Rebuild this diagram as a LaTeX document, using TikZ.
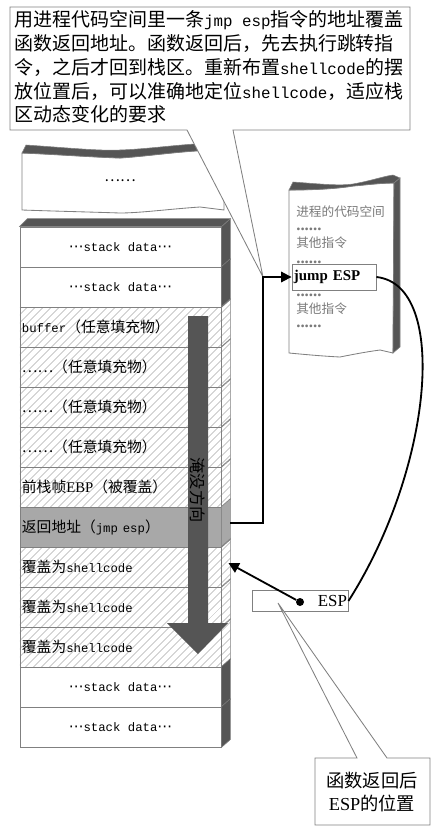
\documentclass[tikz,border=0pt]{standalone}
\usepackage{fontspec}
\setmainfont{Liberation Serif}
\setmonofont[Scale=0.833]{Liberation Mono}
\newfontfamily\cjk{Noto Sans CJK SC}
\newfontfamily\symfont{DejaVu Sans}
\newcommand{\middots}{{\symfont ⋯}}
\usetikzlibrary{arrows.meta,calc,patterns.meta}
\definecolor{framegray}{HTML}{808080}
\definecolor{bandgray}{HTML}{555555}
\definecolor{retgray}{HTML}{A8A8A8}
\definecolor{notegray}{HTML}{7A7A7A}
\tikzset{
  >={Triangle[length=2.6mm,width=2.6mm]},
  % stack
  slot/.style={draw=framegray,line width=0.6pt,minimum width=5.025cm,
               minimum height=1cm,inner sep=0pt,
               font=\cjk\fontsize{10.5}{12}\selectfont},
  lslot/.style={slot,text width=4.925cm,align=left,inner xsep=0.05cm},
  hatch/.style={pattern={Lines[angle=45,distance=4pt,line width=0.45pt]},
                pattern color=black!45},
  retfill/.style={fill=retgray},
  band/.style={fill=bandgray,draw=framegray,line width=0.4pt},
  sheet/.style={fill=white,draw=framegray,line width=0.6pt},
  % kod
  code/.style={anchor=west,inner sep=0pt,text=notegray,
               font=\cjk\fontsize{9}{10}\selectfont},
  codedots/.style={anchor=west,inner sep=0pt,text=notegray,
               font=\rmfamily\bfseries\fontsize{12}{12}\selectfont},
  jmpbox/.style={draw=framegray,line width=0.6pt,minimum width=2.1cm,
                 minimum height=0.65cm,text width=2cm,align=left,
                 inner xsep=0.05cm,font=\bfseries\fontsize{10.6}{12}\selectfont},
  % pilar och rutor
  link/.style={draw=black,line width=1.3pt},
  callout/.style={draw=framegray,fill=white,line width=0.6pt},
  espbox/.style={draw=framegray,line width=0.6pt,minimum width=2.4cm,
                 minimum height=0.5cm,text width=2.35cm,align=right,
                 inner xsep=0.025cm,font=\fontsize{12}{13}\selectfont},
  espdot/.style={circle,fill=black,minimum size=0.2cm,inner sep=0pt},
}

\begin{document}
\begin{tikzpicture}[x=0.025cm,y=-0.025cm]
\useasboundingbox (0,0) rectangle (447,836);
  % stacken
  \node[slot] (r1) at (120.5,247) {\middots\texttt{stack data}\middots};
  \node[slot] (r2) at (120.5,287) {\middots\texttt{stack data}\middots};
  \node[lslot,hatch] (r3) at (120.5,327) {\texttt{buffer}（任意填充物）};
  \node[lslot,hatch] (r4) at (120.5,367) {……（任意填充物）};
  \node[lslot,hatch] (r5) at (120.5,407) {……（任意填充物）};
  \node[lslot,hatch] (r6) at (120.5,447) {……（任意填充物）};
  \node[lslot,hatch] (r7) at (120.5,487) {前栈帧{\rmfamily EBP}（被覆盖）};
  \node[lslot,retfill] (r8) at (120.5,527) {返回地址（\texttt{jmp esp}）};
  \node[lslot,hatch] (r9) at (120.5,567) {覆盖为\texttt{shellcode}};
  \node[lslot,hatch] (r10) at (120.5,607) {覆盖为\texttt{shellcode}};
  \node[lslot,hatch] (r11) at (120.5,647) {覆盖为\texttt{shellcode}};
  \node[slot] (r12) at (120.5,687) {\middots\texttt{stack data}\middots};
  \node[slot] (r13) at (120.5,727) {\middots\texttt{stack data}\middots};
  \foreach \r/\s in {r1/band,r2/band,r3/hatch,r4/hatch,r5/hatch,r6/hatch,
                     r7/hatch,r8/retfill,r9/hatch,r10/hatch,r11/hatch,
                     r12/band,r13/band}
    \draw[\s,draw=framegray,line width=0.4pt] (\r.north east) -- ++(9,-8)
      -- ([shift={(9,-8)}]\r.south east) -- (\r.south east) -- cycle;
  \draw[band] (r1.north west) -- ++(8,-8) -- ([shift={(9,-8)}]r1.north east)
    -- (r1.north east) -- cycle;

  % flodpil
  \fill[bandgray] (188,316) -- (208,316) -- (208,623) -- (228,623)
    -- (198,654) -- (167,623) -- (188,623) -- cycle;
  \node[rotate=-90,font=\cjk\fontsize{11.5}{13}\selectfont] (flood)
    at (198,490) {淹没方向};

  % avriven bit
  \draw[sheet] (22,153) .. controls (50,154) and (90,157) .. (120,158)
    .. controls (150,156) and (180,151) .. (215,150) -- (224,150)
    -- (224,210) -- (200,207) .. controls (170,209) and (140,213) .. (120,213)
    .. controls (90,212) and (50,211) .. (22,210) -- cycle;
  \draw[band] (22,153) -- (26,145) .. controls (70,148) and (100,151) .. (120,150)
    .. controls (150,149) and (180,144) .. (215,143) -- (215,150)
    .. controls (180,151) and (150,156) .. (120,158)
    .. controls (90,157) and (50,154) .. (22,153) -- cycle;
  \node[font=\cjk\fontsize{10.5}{12}\selectfont] (gap) at (120,181) {……};

  % pratbubbla
  \coordinate (turn) at (263,277);
  \draw[callout] (10,7) -- (410,7) -- (410,130) -- (233,130) -- (turn)
    -- (187,130) -- (10,130) -- cycle;
  \node[anchor=north west,inner sep=0pt,align=left,
        font=\cjk\fontsize{13.5}{17}\selectfont] (note) at (14,10)
    {用进程代码空间里一条\texttt{jmp esp}指令的地址覆盖\\
     函数返回地址。函数返回后，先去执行跳转指\\
     令，之后才回到栈区。重新布置\texttt{shellcode}的摆\\
     放位置后，可以准确地定位\texttt{shellcode}，适应栈\\
     区动态变化的要求};

  % kodrymd
  \draw[sheet] (289,190) .. controls (310,190) and (335,189) .. (353,186)
    .. controls (365,185) and (380,183) .. (394,183) -- (393,353)
    -- (380,350) .. controls (365,352) and (350,355) .. (340,357)
    .. controls (320,356) and (300,354) .. (289,353) -- cycle;
  \draw[band] (289,190) -- (293,182) .. controls (320,184) and (340,186) .. (353,184)
    .. controls (370,181) and (385,176) .. (393,175) -- (400,178) -- (394,183)
    .. controls (380,183) and (365,185) .. (353,186)
    .. controls (335,189) and (310,190) .. (289,190) -- cycle;
  \draw[band] (394,183) -- (400,178) -- (400,347) -- (393,353) -- cycle;
  \node[code] (c1) at (296,212) {进程的代码空间};
  \node[codedots] (c2) at (296,229) {......};
  \node[code] (c3) at (296,243) {其他指令};
  \node[codedots] (c4) at (296,262) {......};
  \node[jmpbox] (jmp) at (334,277) {jump ESP};
  \node[codedots] (c5) at (296,295) {......};
  \node[code] (c6) at (296,309) {其他指令};
  \node[codedots] (c7) at (296,326) {......};

  % hopp
  \coordinate (retside) at ([shift={(9,-4)}]r8.east);
  \draw[link,->] (retside) -| (turn) -- (jmp.west);
  \node[espbox] (esp) at (300,601) {ESP};
  \draw[link] (jmp.east) .. controls (450,285) and (432,470) .. (esp.east);
  \node[espdot] (dot) at (300,602) {};
  \coordinate (hit) at ([shift={(7,-4)}]r9.east);
  \draw[link,->] (dot) -- (hit);

  % nedre bubbla
  \coordinate (esptip) at (278,603);
  \draw[callout] (315,758) -- (357,758) -- (esptip) -- (387,758) -- (430,758)
    -- (430,825) -- (315,825) -- cycle;
  \node[align=center,font=\cjk\fontsize{13}{17}\selectfont] (after)
    at (372,792) {函数返回后\\{\rmfamily ESP}的位置};
\end{tikzpicture}
\end{document}
